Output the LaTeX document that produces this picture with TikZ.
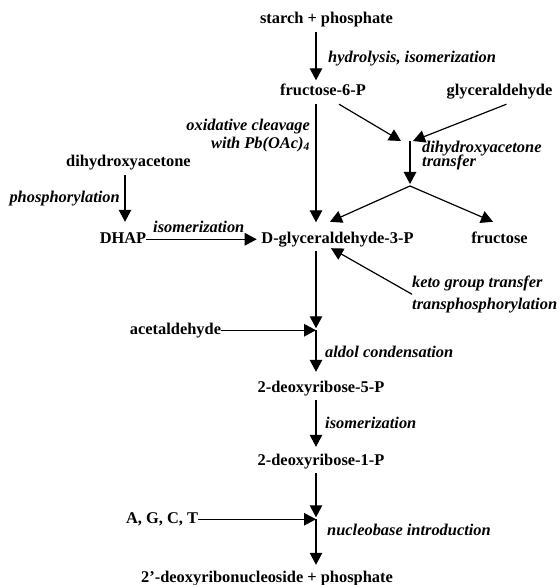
\documentclass[tikz,border=0pt]{standalone}
\usepackage{fontspec}
\setmainfont{Liberation Serif}
\usetikzlibrary{arrows.meta,calc}
\begin{document}
\begin{tikzpicture}[x=1pt,y=1pt,
  sub/.style={font=\fontsize{16.4}{18}\selectfont\bfseries, inner xsep=0pt, inner ysep=4.5pt, text height=11pt, text depth=3.5pt, anchor=base},
  lab/.style={font=\fontsize{16.4}{18}\selectfont\bfseries\itshape, inner sep=0pt},
  arr/.style={-{Triangle[length=12pt,width=12.5pt]}, line width=1.2pt}]
\useasboundingbox (0,0) rectangle (559,-585);
\coordinate (col) at (316,0);
\coordinate (phx) at (125,0);
\coordinate (j1) at (410,-141);
\coordinate (j2) at (410,-186);
% substances
\node[sub] (starch) at (326.5,-23.5) {starch + phosphate};
\node[sub] (fruc6p) at (323,-96) {fructose-6-P};
\node[sub] (glyc) at (499.5,-96) {glyceraldehyde};
\node[sub] (dha) at (128.5,-167) {dihydroxyacetone};
\node[sub] (dhap) at (123,-243) {DHAP};
\node[sub] (g3p) at (337.5,-243) {D-glyceraldehyde-3-P};
\node[sub] (fruc) at (499.5,-243) {fructose};
\node[sub] (acet) at (175.5,-334) {acetaldehyde};
\node[sub] (dr5p) at (321,-392) {2-deoxyribose-5-P};
\node[sub] (dr1p) at (321,-465) {2-deoxyribose-1-P};
\node[sub] (bases) at (162,-523) {A, G, C, T};
\node[sub] (prod) at (267,-582) {2’-deoxyribonucleoside + phosphate};
% reaction labels
\node[lab, anchor=base west] (l1) at (328,-63) {hydrolysis, isomerization};
\node[lab, anchor=north east, align=right, font=\fontsize{16.4}{18}\selectfont\bfseries\itshape] (l2) at (310,-118.5) {oxidative cleavage\\with Pb(OAc)\textsubscript{4}};
\node[lab, anchor=base west] (l3a) at (422,-153) {dihydroxyacetone};
\node[lab, anchor=base west] (l3b) at (422,-166.5) {transfer};
\node[lab, anchor=base east] (l4) at (120,-202) {phosphorylation};
\node[lab, anchor=base west] (l5) at (153,-232) {isomerization};
\node[lab, anchor=north west, align=left, font=\fontsize{16.4}{22}\selectfont\bfseries\itshape] (keto) at (412,-275.5) {keto group transfer\\transphosphorylation};
\node[lab, anchor=base west] (l6) at (325,-357) {aldol condensation};
\node[lab, anchor=base west] (l7) at (325,-428) {isomerization};
\node[lab, anchor=base west] (l8) at (327,-535) {nucleobase introduction};
% junctions
\coordinate (jA) at (acet.east -| col);
\coordinate (jB) at (bases.east -| col);
% connectors
\draw[arr] (starch.south -| col) -- (fruc6p.north -| col);
\draw[arr, shorten >=5pt] (fruc6p.south -| col) -- (g3p.north -| col);
\draw[arr] ([xshift=16pt]fruc6p.south) -- ([xshift=-9pt]j1);
\draw[arr] ([xshift=7pt]glyc.south) -- ([xshift=3pt]j1);
\draw[arr, shorten >=2pt] (j1) -- (j2);
\draw[arr] (j2) -- ([xshift=-7.5pt,yshift=5.5pt]g3p.north);
\draw[arr] (j2) -- ([xshift=-6.5pt,yshift=5.5pt]fruc.north);
\draw[arr, shorten >=5.5pt] (dha.south -| phx) -- (dhap.north -| phx);
\draw[arr, shorten >=4.5pt] (dhap.east) -- (g3p.west);
\draw[arr] (keto.west) -- ([xshift=-6.5pt,yshift=3pt]g3p.south);
\draw[arr, shorten >=2pt] (g3p.south -| col) -- (jA);
\draw[arr] (acet.east) -- (jA);
\draw[arr, shorten >=4.5pt] (jA) -- (dr5p.north -| col);
\draw[arr, shorten >=2.5pt] (dr5p.south -| col) -- (dr1p.north -| col);
\draw[arr, shorten >=2pt] (dr1p.south -| col) -- (jB);
\draw[arr] (bases.east) -- (jB);
\draw[arr, shorten >=1.5pt] (jB) -- (prod.north -| col);
\end{tikzpicture}
\end{document}
